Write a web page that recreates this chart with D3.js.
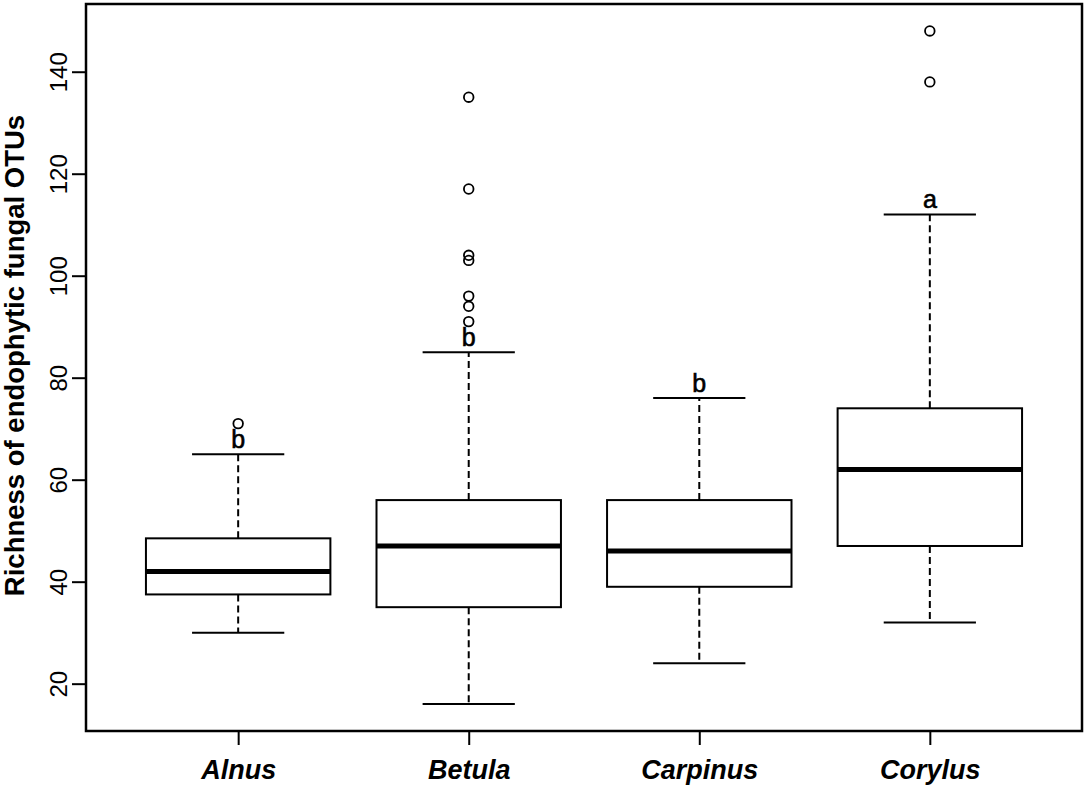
<!DOCTYPE html>
<html>
<head>
<meta charset="utf-8">
<script src="https://cdn.jsdelivr.net/npm/d3@7"></script>
<style>
  html, body { margin: 0; padding: 0; background: #fff; }
  svg { display: block; font-family: "Liberation Sans", Arial, sans-serif; }
</style>
</head>
<body>
<svg id="chart" width="1088" height="787"></svg>
<script>
// ---- data ----
const categories = ["Alnus", "Betula", "Carpinus", "Corylus"];
const lowerWhisker = [30, 16, 24, 32];
const q1 = [37.5, 35, 39, 47];
const medians = [42, 47, 46, 62];
const q3 = [48.5, 56, 56, 74];
const upperWhisker = [65, 85, 76, 112];
const outliers = [
  [71],
  [91, 94, 96, 103, 104, 117, 135],
  [],
  [138, 148]
];
const groupLetters = ["b", "b", "b", "a"];
const yTicks = [20, 40, 60, 80, 100, 120, 140];
const yTitle = "Richness of endophytic fungal OTUs";

// ---- layout ----
const svg = d3.select("#chart");
const plot = { left: 86, right: 1082, top: 4, bottom: 731 };

// R-style axis extension (4%)
const allVals = [].concat(lowerWhisker, upperWhisker, ...outliers);
const yMin = d3.min(allVals), yMax = d3.max(allVals);
const yPad = (yMax - yMin) * 0.04;
const y = d3.scaleLinear().domain([yMin - yPad, yMax + yPad]).range([plot.bottom, plot.top]);

const xPad = (categories.length) * 0.04;
const x = d3.scaleLinear()
  .domain([0.5 - xPad, categories.length + 0.5 + xPad])
  .range([plot.left, plot.right]);

const boxHalf = 0.4, capHalf = 0.2;

const g = svg.append("g");

categories.forEach((c, i) => {
  const cx = x(i + 1);
  const bx0 = x(i + 1 - boxHalf), bx1 = x(i + 1 + boxHalf);
  const cx0 = x(i + 1 - capHalf), cx1 = x(i + 1 + capHalf);

  // whiskers (dashed)
  g.append("line").attr("x1", cx).attr("x2", cx)
    .attr("y1", y(q3[i])).attr("y2", y(upperWhisker[i]))
    .attr("stroke", "#000").attr("stroke-width", 2).attr("stroke-dasharray", "7,4");
  g.append("line").attr("x1", cx).attr("x2", cx)
    .attr("y1", y(q1[i])).attr("y2", y(lowerWhisker[i]))
    .attr("stroke", "#000").attr("stroke-width", 2).attr("stroke-dasharray", "7,4");
  // caps
  [upperWhisker[i], lowerWhisker[i]].forEach(v => {
    g.append("line").attr("x1", cx0).attr("x2", cx1)
      .attr("y1", y(v)).attr("y2", y(v))
      .attr("stroke", "#000").attr("stroke-width", 2);
  });
  // box
  g.append("rect").attr("x", bx0).attr("y", y(q3[i]))
    .attr("width", bx1 - bx0).attr("height", y(q1[i]) - y(q3[i]))
    .attr("fill", "#fff").attr("stroke", "#000").attr("stroke-width", 2);
  // median
  g.append("line").attr("x1", bx0).attr("x2", bx1)
    .attr("y1", y(medians[i])).attr("y2", y(medians[i]))
    .attr("stroke", "#000").attr("stroke-width", 5);
  // outliers
  g.selectAll(null).data(outliers[i]).enter().append("circle")
    .attr("cx", cx).attr("cy", d => y(d)).attr("r", 4.8)
    .attr("fill", "none").attr("stroke", "#000").attr("stroke-width", 1.8);
  // group letters
  g.append("text").attr("x", cx).attr("y", y(upperWhisker[i] + 3))
    .attr("text-anchor", "middle").attr("dominant-baseline", "central")
    .attr("font-size", 25).attr("fill", "#000")
    .attr("stroke", "#000").attr("stroke-width", 0.6)
    .text(groupLetters[i]);
});

// plot frame
svg.append("rect").attr("x", plot.left).attr("y", plot.top)
  .attr("width", plot.right - plot.left).attr("height", plot.bottom - plot.top)
  .attr("fill", "none").attr("stroke", "#000").attr("stroke-width", 2.5);

// y axis
const yAxis = d3.axisLeft(y).tickValues(yTicks).tickSize(14).tickPadding(4);
const yg = svg.append("g").attr("transform", `translate(${plot.left},0)`).call(yAxis);
yg.select(".domain").remove();
yg.selectAll(".tick line").attr("stroke", "#000").attr("stroke-width", 2);
yg.selectAll(".tick text")
  .attr("font-size", 24).attr("font-family", "Liberation Sans, Arial, sans-serif")
  .attr("fill", "#000")
  .attr("text-anchor", "middle").attr("dominant-baseline", "auto")
  .attr("x", null).attr("dy", null)
  .attr("transform", "translate(-19,0) rotate(-90)");

// x axis
const xAxis = d3.axisBottom(x).tickValues(categories.map((c, i) => i + 1))
  .tickFormat((d) => categories[d - 1]).tickSize(14).tickPadding(15);
const xg = svg.append("g").attr("transform", `translate(0,${plot.bottom})`).call(xAxis);
xg.select(".domain").remove();
xg.selectAll(".tick line").attr("stroke", "#000").attr("stroke-width", 2);
xg.selectAll(".tick text")
  .attr("font-size", 27).attr("font-weight", "bold").attr("font-style", "italic")
  .attr("font-family", "Liberation Sans, Arial, sans-serif").attr("fill", "#000");

// y title
svg.append("text")
  .attr("transform", `translate(24,${(103 + 608) / 2}) rotate(-90)`)
  .attr("text-anchor", "middle")
  .attr("font-size", 27.5).attr("font-weight", "bold").attr("fill", "#000")
  .text(yTitle);
</script>
</body>
</html>
